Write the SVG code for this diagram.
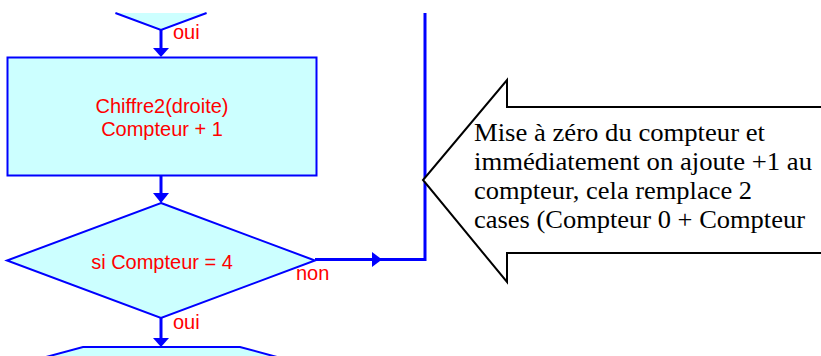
<svg xmlns="http://www.w3.org/2000/svg" width="821" height="356" viewBox="0 0 821 356">
  <defs>
    <style>
      .shape { fill: #ccffff; stroke: #0000ff; stroke-width: 2; }
      .flow { fill: none; stroke: #0000ff; stroke-width: 3; }
      .head { fill: #0000ff; stroke: none; }
      .lbl { font-family: "Liberation Sans", Arial, sans-serif; font-size: 20px; fill: #ff0000; }
      .note { font-family: "Liberation Serif", "Times New Roman", serif; font-size: 25px; fill: #000000; }
    </style>
  </defs>
  <rect x="0" y="0" width="821" height="356" fill="#ffffff"/>

  <!-- previous decision (only its lower tip is shown) -->
  <g id="decision-prev">
    <polygon points="115.4,13 161,30 206.6,13" fill="#ccffff" stroke="none"/>
    <polyline points="115.4,13 161,30 206.6,13" fill="none" stroke="#0000ff" stroke-width="2"/>
    <text class="lbl" x="173" y="39">oui</text>
  </g>

  <!-- process box -->
  <g id="process">
    <rect class="shape" x="7.5" y="57.5" width="309" height="118"/>
    <text class="lbl" x="162" y="113" text-anchor="middle">Chiffre2(droite)</text>
    <text class="lbl" x="162" y="136" text-anchor="middle">Compteur + 1</text>
  </g>

  <!-- counter test -->
  <g id="decision-compteur">
    <polygon class="shape" points="161,203 315,260.5 161,318 7,260.5"/>
    <text class="lbl" x="162" y="269" text-anchor="middle">si Compteur = 4</text>
    <text class="lbl" x="296" y="280">non</text>
    <text class="lbl" x="173" y="329">oui</text>
  </g>

  <!-- next block (top edge only) -->
  <g id="next-block">
    <polygon class="shape" points="46,357 83,347 240,347 277,357"/>
  </g>

  <!-- connectors -->
  <g id="connectors">
    <line class="flow" x1="161" y1="30" x2="161" y2="50"/>
    <polygon class="head" points="153,48 169,48 161,57"/>
    <line class="flow" x1="161" y1="176" x2="161" y2="195"/>
    <polygon class="head" points="153,193 169,193 161,203"/>
    <line class="flow" x1="161" y1="318" x2="161" y2="340"/>
    <polygon class="head" points="153,338 169,338 161,347"/>
    <polyline class="flow" points="315,259.5 425,259.5 425,13"/>
    <polygon class="head" points="372,252 382,259.5 372,267"/>
  </g>

  <!-- explanatory callout arrow -->
  <g id="callout">
    <path d="M 830,107 L 507,107 L 507,80 L 423,180 L 507,282 L 507,253 L 830,253" fill="#ffffff" stroke="#000000" stroke-width="2"/>
    <text class="note" x="474" y="141" textLength="291" lengthAdjust="spacingAndGlyphs">Mise à zéro du compteur et</text>
    <text class="note" x="474" y="170" textLength="338" lengthAdjust="spacingAndGlyphs">immédiatement on ajoute +1 au</text>
    <text class="note" x="474" y="198.5" textLength="278" lengthAdjust="spacingAndGlyphs">compteur, cela remplace 2</text>
    <text class="note" x="474" y="227.5" textLength="331" lengthAdjust="spacingAndGlyphs">cases (Compteur 0 + Compteur</text>
  </g>
</svg>
